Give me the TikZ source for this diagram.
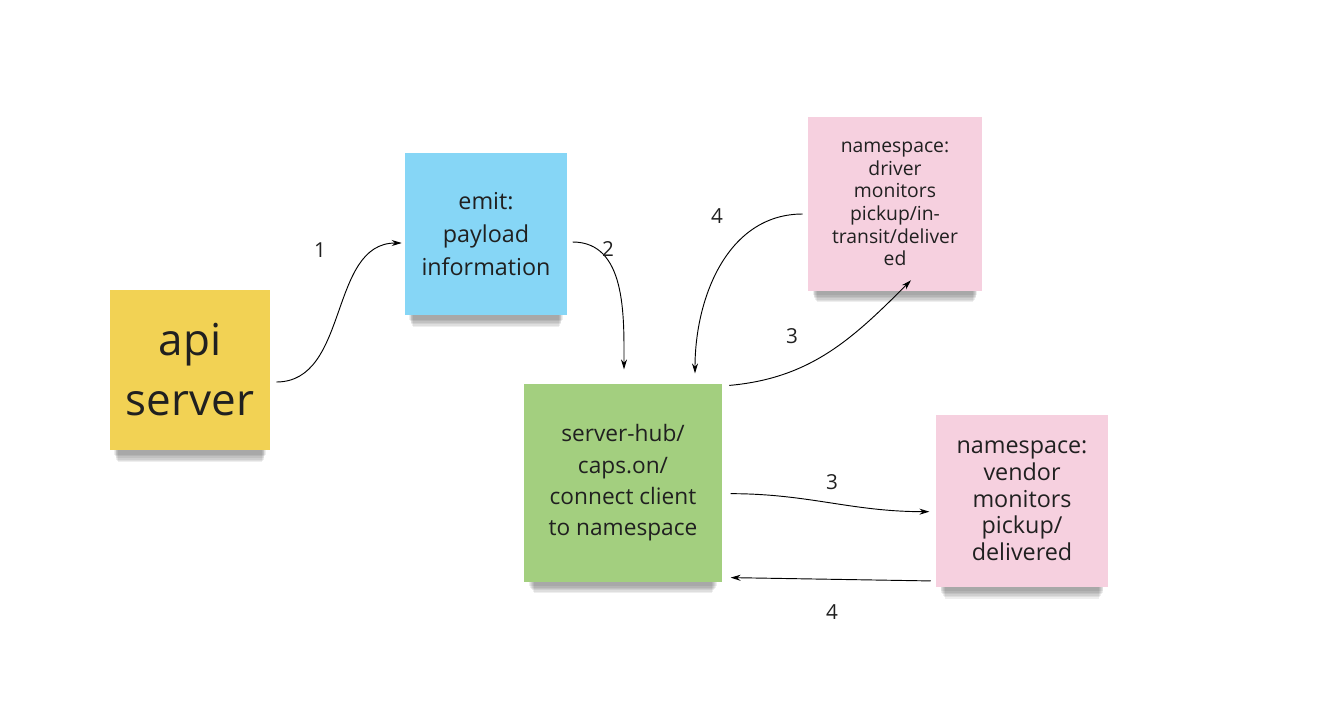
\documentclass[tikz,border=0pt]{standalone}
\usepackage{fontspec}
\setmainfont{Open Sans}
\usetikzlibrary{arrows.meta, positioning, shadows}
\definecolor{noteyellow}{RGB}{242,210,84}
\definecolor{noteblue}{RGB}{134,214,246}
\definecolor{notepink}{RGB}{246,208,223}
\definecolor{notegreen}{RGB}{163,207,127}
\definecolor{inkgray}{RGB}{32,32,32}

\begin{document}
\begin{tikzpicture}[
      x=0.75pt, y=-0.75pt,
      soft/.style 2 args={general shadow={fill=black, opacity=0.065,
        shadow xshift=0pt, shadow yshift=#1, shadow scale=#2}},
      note/.style={
        rectangle, fill=#1, text=inkgray,
        align=center, inner sep=0pt,
        soft={-17pt}{0.9}, soft={-15pt}{0.91}, soft={-13pt}{0.92},
        soft={-11pt}{0.93}, soft={-9pt}{0.94}, soft={-7pt}{0.95}
      },
      lbl/.style={font=\fontsize{15.5}{18}\selectfont, text=inkgray},
      arr/.style={-{Stealth[length=7.5pt, width=4.5pt]}, line width=0.7pt, color=black}
    ]
      \fill[white] (0,0) rectangle (1328,708);
      \useasboundingbox (0,0) rectangle (1328,708);
      % sticky notes
      \node[note=noteyellow, minimum size=120pt,
        font=\fontsize{33}{45}\selectfont] (api) at (190,370) {api\\server};
      \node[note=noteblue, minimum size=121.5pt,
        font=\fontsize{17.5}{24.5}\selectfont] (emit) at (486,234) {emit:\\payload\\information};
      \node[note=notegreen, minimum size=149pt,
        font=\fontsize{17}{23.5}\selectfont] (hub) at (623,483)
        {server-hub/\\caps.on/\\connect client\\to namespace};
      \node[note=notepink, minimum size=130pt,
        font=\fontsize{14.5}{17}\selectfont] (driver) at (895,204)
        {namespace:\\driver\\monitors\\pickup/in-\\transit/deliver\\ed};
      \node[note=notepink, minimum size=128.5pt,
        font=\fontsize{17.5}{20}\selectfont] (vendor) at (1022,501)
        {namespace:\\vendor\\monitors\\pickup/\\delivered};
      % connectors
      \draw[arr] ([xshift=4.5pt, yshift=-9pt]api.east) to[out=0, in=180]
        ([xshift=-2.25pt, yshift=-6.75pt]emit.west);
      \draw[arr] ([xshift=4pt, yshift=-6pt]emit.east) to[out=0, in=90]
        ([xshift=0.75pt, yshift=10.5pt]hub.north);
      \draw[arr] ([xshift=5pt, yshift=-1.5pt]hub.north east) to[out=5, in=225]
        ([xshift=12pt, yshift=8pt]driver.south);
      \draw[arr] ([xshift=-4pt, yshift=-7.5pt]driver.west) to[out=180, in=90]
        ([xshift=54pt, yshift=7.5pt]hub.north);
      \draw[arr] ([xshift=6pt, yshift=-8pt]hub.east) to[out=0, in=180]
        ([xshift=-5pt, yshift=-8pt]vendor.west);
      \draw[arr] ([xshift=-4pt, yshift=4.5pt]vendor.south west) --
        ([xshift=6pt, yshift=3.75pt]hub.south east);
      % step labels
      \node[lbl] (l1) at (320,250) {1};
      \node[lbl] (l2) at (608,249) {2};
      \node[lbl] (l3a) at (792,336) {3};
      \node[lbl] (l4a) at (717,216) {4};
      \node[lbl] (l3b) at (832,482) {3};
      \node[lbl] (l4b) at (832,612) {4};
    \end{tikzpicture}
\end{document}
